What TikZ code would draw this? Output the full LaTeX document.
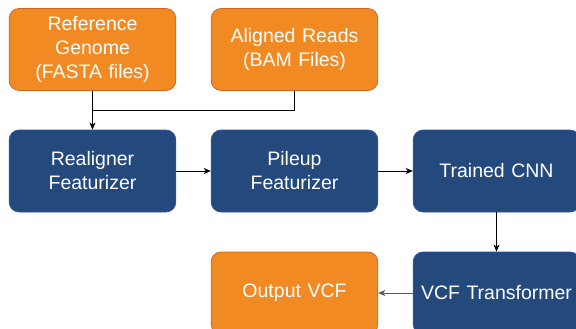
\documentclass[tikz,border=0pt]{standalone}
\usepackage{fontspec}
\usetikzlibrary{arrows.meta}
\setmainfont{Liberation Sans}
\definecolor{boxorange}{HTML}{F28A24}
\definecolor{lineorange}{HTML}{D2651C}
\definecolor{boxblue}{HTML}{23497D}
\definecolor{lineblue}{HTML}{3152A8}
\tikzset{
	stage/.style={rounded corners=10pt, minimum width=163pt, minimum height=82pt,
		text width=160pt, align=center, text=white, line width=.8pt,
		font=\fontsize{19.5}{24}\selectfont},
	datafile/.style={stage, fill=boxorange, draw=lineorange},
	process/.style={stage, fill=boxblue, draw=lineblue},
	flow/.style={->, line width=.8pt}
}
\begin{document}
\begin{tikzpicture}[x=1pt, y=-1pt, >={Stealth[length=7pt,width=6pt,inset=2pt]}, line join=round]
	\useasboundingbox (0,0) rectangle (576,329);
	\clip (0,0) rectangle (576,329);
	% inputs
	\node[datafile] (refgen) at (92.5,49.5) {Reference\\Genome\\(FASTA files)};
	\node[datafile] (reads) at (294.5,49.5) {Aligned Reads\\(BAM Files)};
	% pipeline
	\node[process] (realign) at (92.5,171) {Realigner\\Featurizer};
	\node[process] (pileup) at (294.5,171) {Pileup\\Featurizer};
	\node[process] (cnn) at (496.5,171) {Trained CNN};
	\node[process] (vcft) at (496.5,293) {VCF Transformer};
	\node[datafile] (outvcf) at (294.5,293) {Output VCF};
	\coordinate (join) at (refgen.south |- 0,110);
	\draw[flow] (refgen) -- (realign);
	\draw[line width=.8pt] (reads.south) |- (join);
	\foreach \s/\t in {realign/pileup, pileup/cnn, cnn/vcft} \draw[flow] (\s) -- (\t);
	\draw[flow, black!65] (vcft) -- (outvcf);
\end{tikzpicture}
\end{document}
